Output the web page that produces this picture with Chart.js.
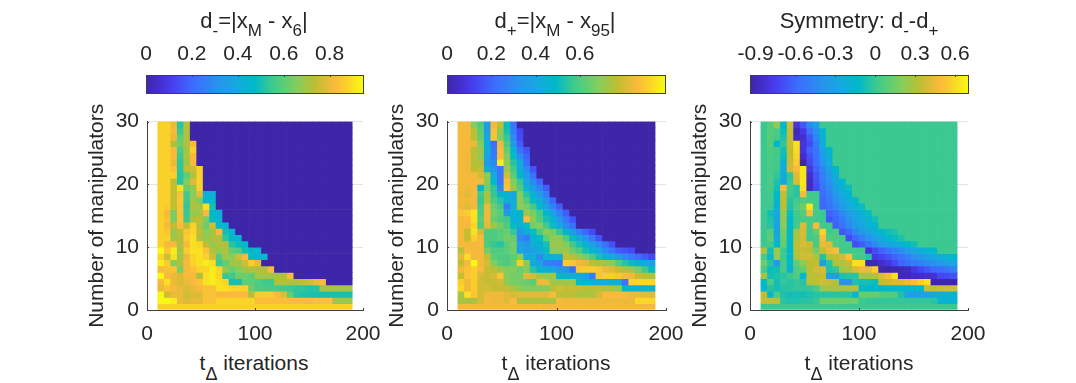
<!DOCTYPE html>
<html>
<head>
<meta charset="utf-8">
<script src="https://cdn.jsdelivr.net/npm/chart.js@4/dist/chart.umd.min.js"></script>
<style>
    body { margin: 0; background: #fff; width: 1076px; height: 383px; overflow: hidden; position: relative; font-family: "Liberation Sans", sans-serif; color: #262626; }
    canvas { position: absolute; }
    .lbl { position: absolute; white-space: nowrap; text-align: center; transform: translateX(-50%); }
    .lbl span { position: relative; }
    .sub { font-size: 17px; top: 8px; }
    .delta { font-size: 18px; top: 10px; }
</style>
</head>
<body>
<script>
// x centre of each column and the manipulator count of each row (top row first)
const tDelta = [13,19,25,31,37,43,49,55,61,67,73,79,85,91,97,103,109,115,121,127,133,139,145,151,157,163,169,175,181,187];
const manipulators = [30,29,28,27,26,25,24,23,22,21,20,19,18,17,16,15,14,13,12,11,10,9,8,7,6,5,4,3,2,1];

// heat values, top row first. a row that stops short is 0 for the rest
const dMinus = [
    [.87,.87,.80,.52,.72],
    [.87,.87,.82,.55,.72],
    [.87,.87,.80,.60,.72],
    [.87,.87,.72,.62,.72,.82],
    [.87,.87,.82,.57,.70,.87],
    [.87,.87,.82,.55,.72,.82],
    [.87,.87,.80,.53,.70,.82],
    [.87,.87,.84,.53,.74,.76,.87],
    [.87,.87,.87,.52,.60,.72,.87],
    [.87,.87,.74,.52,.66,.78,.87],
    [.87,.87,.74,.90,.62,.68,.87],
    [.87,.87,.74,.84,.55,.66,.80,.42,.42],
    [.87,.87,.74,.85,.55,.70,.64,.44,.46],
    [.87,.86,.74,.84,.53,.72,.70,.90,.50],
    [.87,.82,.64,.84,.54,.68,.70,.82,.47,.42],
    [.87,.84,.64,.84,.55,.72,.74,.64,.48,.44],
    [.87,.82,.74,.82,.74,.87,.72,.62,.76,.46,.44],
    [.87,.85,.68,.74,.84,.88,.74,.66,.70,.82,.50,.45],
    [.87,.87,.70,.72,.86,.90,.72,.68,.72,.72,.53,.47,.46],
    [.87,.82,.82,.72,.82,.90,.88,.74,.68,.72,.72,.52,.48,.46],
    [.94,.85,.92,.70,.86,.90,.90,.84,.72,.68,.72,.60,.58,.50,.46,.45],
    [.88,.76,.90,.70,.80,.88,.90,.87,.76,.58,.70,.66,.76,.82,.47,.46,.46],
    [.92,.86,.66,.72,.82,.88,.90,.92,.90,.55,.60,.70,.70,.76,.86,.80],
    [.82,.84,.84,.64,.82,.84,.88,.88,.92,.88,.68,.62,.66,.70,.72,.72,.72,.82],
    [.94,.82,.80,.78,.82,.82,.72,.90,.92,.88,.54,.55,.63,.62,.60,.70,.70,.70,.70,.72,.82],
    [.82,.90,.80,.78,.80,.82,.84,.90,.92,.90,.88,.50,.50,.60,.60,.57,.55,.55,.72,.72,.72,.72,.74,.76,.80,.82],
    [.80,.84,.82,.80,.78,.80,.82,.84,.84,.90,.90,.88,.88,.87,.62,.57,.57,.56,.56,.55,.54,.53,.53,.52,.52,.71,.71,.71,.71,.71],
    [.94,.76,.80,.80,.76,.78,.78,.84,.84,.82,.82,.82,.82,.82,.72,.86,.86,.86,.82,.78,.60,.52,.51,.51,.50,.50,.50,.50,.50,.50],
    [.94,.94,.92,.80,.78,.80,.80,.84,.84,.88,.88,.88,.88,.88,.88,.83,.83,.83,.83,.83,.83,.83,.83,.83,.84,.84,.84,.70,.70,.70],
    [.87,.87,.87,.87,.87,.87,.87,.87,.87,.87,.87,.87,.87,.87,.87,.87,.87,.87,.87,.87,.87,.87,.87,.87,.87,.87,.87,.87,.87,.87]
];

const dPlus = [
    [.85,.85,.68,.60,.36,.85,.76,.50,.24],
    [.85,.85,.76,.62,.36,.87,.70,.52,.26,.13],
    [.85,.85,.76,.64,.40,.88,.68,.56,.30,.14],
    [.85,.85,.83,.68,.44,.22,.84,.60,.36,.18],
    [.85,.85,.76,.72,.44,.24,.86,.64,.46,.22,.16],
    [.85,.84,.76,.70,.38,.26,.86,.68,.50,.30,.20],
    [.85,.84,.76,.74,.36,.30,.96,.70,.54,.42,.22],
    [.85,.84,.77,.78,.44,.34,.24,.72,.58,.44,.30,.16],
    [.85,.85,.85,.80,.70,.42,.24,.80,.62,.48,.36,.22],
    [.85,.85,.85,.85,.68,.48,.24,.86,.68,.56,.40,.30,.20],
    [.85,.84,.85,.48,.66,.55,.30,.88,.72,.60,.46,.36,.28,.18],
    [.84,.82,.85,.58,.74,.56,.46,.46,.40,.68,.54,.44,.36,.26],
    [.85,.84,.85,.56,.74,.60,.54,.44,.42,.70,.60,.50,.42,.32,.20],
    [.84,.82,.85,.58,.83,.64,.58,.26,.44,.70,.66,.58,.48,.38,.28,.18],
    [.88,.90,.95,.60,.84,.66,.62,.36,.46,.48,.72,.66,.58,.48,.38,.28,.18],
    [.85,.86,.94,.62,.84,.64,.60,.58,.44,.46,.86,.70,.60,.52,.46,.34,.24,.16],
    [.85,.85,.92,.60,.82,.72,.66,.60,.50,.44,.50,.66,.68,.58,.50,.40,.30,.22],
    [.85,.78,.94,.80,.60,.60,.62,.64,.56,.34,.44,.50,.60,.70,.66,.56,.46,.36,.28,.20,.14],
    [.85,.78,.90,.85,.60,.60,.62,.66,.64,.30,.26,.46,.50,.62,.70,.70,.60,.50,.40,.32,.24,.16],
    [.85,.85,.85,.85,.60,.56,.54,.62,.66,.38,.34,.44,.46,.52,.72,.72,.68,.58,.52,.46,.38,.30,.22,.16],
    [.76,.86,.85,.85,.66,.60,.60,.62,.66,.40,.36,.38,.42,.50,.70,.70,.72,.64,.60,.52,.46,.40,.30,.24,.18,.16,.14],
    [.82,.93,.84,.85,.78,.62,.60,.60,.62,.70,.40,.44,.30,.44,.46,.44,.78,.76,.72,.66,.60,.52,.46,.42,.36,.30,.26,.22,.18,.14],
    [.78,.85,.98,.84,.80,.68,.62,.60,.64,.90,.70,.42,.38,.28,.26,.24,.90,.88,.84,.82,.76,.74,.72,.70,.60,.54,.50,.46,.42,.38],
    [.84,.88,.90,.85,.78,.76,.72,.68,.68,.64,.68,.54,.46,.44,.40,.34,.32,.22,.88,.90,.90,.88,.84,.82,.78,.74,.72,.66,.58,.50],
    [.78,.88,.90,.80,.78,.80,.88,.68,.66,.66,.82,.80,.72,.70,.72,.48,.46,.44,.42,.38,.26,.88,.90,.90,.88,.86,.84,.78,.76,.74],
    [.90,.84,.90,.80,.78,.78,.80,.70,.66,.66,.64,.62,.84,.84,.72,.72,.72,.72,.50,.48,.47,.46,.44,.44,.42,.24,.92,.92,.92,.92],
    [.92,.84,.90,.80,.80,.78,.78,.78,.74,.70,.68,.68,.68,.68,.76,.80,.78,.78,.78,.76,.76,.76,.74,.74,.70,.48,.47,.46,.46,.46],
    [.74,.94,.88,.80,.84,.84,.84,.82,.80,.82,.82,.82,.82,.82,.86,.76,.76,.76,.74,.74,.74,.80,.86,.86,.86,.86,.84,.84,.82,.82],
    [.74,.74,.74,.80,.85,.84,.84,.82,.86,.74,.74,.74,.74,.74,.74,.85,.84,.84,.84,.84,.84,.84,.84,.84,.84,.84,.84,.92,.92,.92],
    [.85,.85,.85,.85,.85,.85,.85,.85,.85,.85,.85,.85,.85,.85,.85,.85,.85,.85,.85,.85,.85,.85,.85,.85,.85,.85,.85,.85,.85,.85]
];

const symmetry = [
    [0,.08,.22,-.14,.38,-.80,-.66,-.45,-.30],
    [0,.08,.04,-.10,.36,-.90,-.78,-.55,-.42,-.14],
    [0,.08,.02,-.06,.36,-.88,-.84,-.66,-.46,-.18],
    [0,.08,-.14,-.02,.36,.62,-.80,-.70,-.52,-.22],
    [0,.06,.02,-.08,.34,.60,-.80,-.62,-.55,-.30,-.14],
    [0,.05,.02,-.10,.34,.58,-.85,-.68,-.56,-.35,-.20],
    [0,.04,.02,-.22,.36,.55,-.94,-.72,-.58,-.38,-.24],
    [0,.04,0,-.24,.38,.48,.64,-.78,-.62,-.46,-.30,-.14],
    [0,.04,-.02,-.22,-.02,.42,.64,-.84,-.66,-.50,-.35,-.20],
    [0,.04,-.06,-.30,0,.40,.64,-.88,-.68,-.52,-.40,-.26,-.14],
    [0,.04,-.08,.48,.02,-.04,.62,-.88,-.70,-.55,-.46,-.30,-.20,-.10],
    [0,.02,-.12,.36,0,-.04,.48,.02,.02,-.58,-.48,-.36,-.26,-.14],
    [0,.02,-.16,.34,-.04,.02,.06,.04,.02,-.60,-.52,-.40,-.32,-.22,-.12],
    [0,0,-.20,.34,-.06,.06,.14,.64,.02,-.60,-.55,-.46,-.36,-.26,-.18,-.10],
    [0,-.08,-.26,.24,-.10,.02,.08,.50,.02,0,-.62,-.56,-.44,-.34,-.26,-.18,-.10],
    [0,-.06,-.28,.24,-.14,0,.04,.04,.02,0,-.66,-.60,-.52,-.40,-.30,-.24,-.16,-.08],
    [0,-.04,-.30,.22,-.12,.02,.42,.04,.48,.02,.02,-.62,-.56,-.44,-.34,-.28,-.20,-.14],
    [0,.08,-.28,.16,-.12,.28,.40,.02,.12,.58,.02,.04,-.66,-.60,-.46,-.38,-.30,-.22,-.14,-.08,-.06],
    [0,.10,-.24,.14,-.12,.30,.38,.02,.04,.50,.06,.06,.02,-.70,-.60,-.50,-.40,-.32,-.24,-.16,-.10,-.06],
    [0,.02,-.14,.12,-.12,.34,.40,.36,.04,.44,.42,.06,.02,.02,-.70,-.64,-.56,-.44,-.34,-.30,-.24,-.18,-.12,-.08],
    [.30,-.08,.24,0,-.14,.32,.36,.34,.14,.36,.44,.50,.02,.02,.02,.02,-.82,-.70,-.62,-.56,-.48,-.42,-.34,-.28,-.22,-.16,-.12],
    [.04,-.16,.24,0,-.14,.30,.38,.38,.30,-.06,.30,.34,.38,.52,.04,.02,-.04,-.78,-.74,-.68,-.62,-.56,-.50,-.42,-.38,-.32,-.26,-.22,-.18,-.14],
    [.14,-.04,-.36,.02,-.12,.10,.22,.34,.34,-.34,-.04,.30,.30,.36,.62,.62,-.92,-.90,-.86,-.80,-.70,-.62,-.56,-.52,-.50,-.44,-.40,-.36,-.32,-.28],
    [.04,-.10,-.08,.04,-.20,.06,.12,.32,.38,.38,-.06,-.02,.26,.30,.40,.46,.44,.56,-.92,-.94,-.92,-.90,-.88,-.78,-.72,-.66,-.60,-.58,-.54,-.48],
    [.28,-.08,-.06,-.04,0,.06,-.16,.32,.34,.36,-.32,-.34,-.06,-.04,-.04,.28,.28,.32,.40,.48,.62,-.90,-.90,-.88,-.86,-.84,-.82,-.72,-.70,-.68],
    [-.12,.06,-.08,-.02,-.04,-.02,-.04,.32,.34,.38,.36,.30,-.40,-.40,-.06,-.08,-.08,-.10,.32,.36,.38,.40,.44,.50,.56,.62,-.94,-.94,-.94,-.94],
    [-.16,-.04,-.08,-.04,-.04,-.02,-.02,-.02,.04,.24,.28,.30,.30,.30,.30,-.12,-.14,-.14,-.14,-.14,-.14,-.14,-.14,-.14,-.12,.36,.36,.37,.38,.38],
    [.34,-.16,.06,-.06,-.08,-.08,-.08,-.06,-.04,-.04,-.04,-.04,-.04,-.04,-.16,.12,.12,.12,.08,.06,.06,-.06,-.32,-.32,-.32,-.30,-.28,-.22,-.18,-.18],
    [.36,.36,.32,-.04,-.06,-.06,-.04,-.04,-.02,.14,.14,.14,.14,.14,.14,0,-.02,-.02,-.02,-.02,-.02,-.02,-.02,-.02,-.02,-.02,-.04,-.16,-.18,-.18],
    [0,0,0,0,0,0,0,0,0,0,0,0,0,0,0,0,0,0,0,0,0,0,0,0,0,0,0,0,0,0]
];

// colour bar ranges and ticks
const dMinusRange = [0, 0.945];
const dPlusRange = [0, 0.985];
const symmetryRange = [-0.9425, 0.6975];
const dMinusTicks = [0, 0.2, 0.4, 0.6, 0.8];
const dPlusTicks = [0, 0.2, 0.4, 0.6];
const symmetryTicks = [-0.9, -0.6, -0.3, 0, 0.3, 0.6];
const xTicks = [0, 100, 200];
const yTicks = [0, 10, 20, 30];

const parula = [
    [0,62,38,168],[.06,68,46,205],[.12,72,62,240],[.22,60,110,255],[.34,38,150,235],[.42,20,170,222],[.5,0,185,200],
    [.575,60,200,145],[.63,90,205,120],[.7,135,205,90],[.78,190,190,50],[.87,250,185,60],[.93,250,212,40],[1,248,250,20]
];

const textColor = '#262626';
const axisColor = '#404040';
const fontFamily = '"Liberation Sans", sans-serif';
const fontSize = 21;

function colorAt(f) {
    f = Math.min(1, Math.max(0, f));
    for (let i = 1; i < parula.length; i++) {
        if (f <= parula[i][0]) {
            let a = parula[i-1], b = parula[i];
            let t = (f - a[0]) / (b[0] - a[0]);
            let ch = j => Math.round(a[j] + (b[j] - a[j]) * t);
            return 'rgb(' + ch(1) + ',' + ch(2) + ',' + ch(3) + ')';
        }
    }
}

function addCanvas(left, top, w, h) {
    let c = document.createElement('canvas');
    c.width = w; c.height = h;
    c.style.left = left + 'px';
    c.style.top = top + 'px';
    c.style.width = w + 'px';
    c.style.height = h + 'px';
    document.body.appendChild(c);
    return c;
}

function addLabel(html, cx, top, size) {
    let d = document.createElement('div');
    d.className = 'lbl';
    d.style.left = cx + 'px';
    d.style.top = top + 'px';
    d.style.fontSize = size + 'px';
    d.innerHTML = html;
    document.body.appendChild(d);
}

// short ticks pointing into the plot, on top of the cells
const inTicks = {
    id: 'inTicks',
    afterDatasetsDraw(chart) {
        let c = chart.ctx, a = chart.chartArea;
        let isBar = chart.config.options.indexAxis == 'y';
        c.save();
        c.strokeStyle = axisColor;
        c.lineWidth = 1;
        c.beginPath();
        for (let t of chart.scales.x.ticks) {
            let px = Math.round(chart.scales.x.getPixelForValue(t.value)) + .5;
            if (isBar) { c.moveTo(px, a.top); c.lineTo(px, a.top + 2); }
            else { c.moveTo(px, a.bottom); c.lineTo(px, a.bottom - 2); }
        }
        if (!isBar) for (let t of chart.scales.y.ticks) {
            let py = Math.round(chart.scales.y.getPixelForValue(t.value)) + .5;
            c.moveTo(a.left, py); c.lineTo(a.left + 2, py);
        }
        c.stroke();
        if (isBar) c.strokeRect(Math.round(a.left) + .5, Math.round(a.top) + .5, Math.round(a.width), Math.round(a.height));
        c.restore();
    }
};

function heatChart(left, right, rows, range) {
    const yWidth = 62, top = 121, bottom = 310;
    let canvas = addCanvas(left - yWidth, top - 20, yWidth + (right - left) + 30, bottom - top + 20 + 34);
    let datasets = rows.map((row, r) => ({
        data: tDelta.map(t => ({x: t, y: [manipulators[r] - 1, manipulators[r]]})),
        backgroundColor: tDelta.map((t, c) => colorAt(((row[c] ?? 0) - range[0]) / (range[1] - range[0]))),
        borderWidth: 0,
        categoryPercentage: 1,
        barPercentage: 1,
    }));
    return new Chart(canvas, {
        type: 'bar',
        data: {datasets},
        plugins: [inTicks],
        options: {
            responsive: false,
            animation: false,
            layout: {padding: {top: 10, right: 30, left: 0, bottom: 0}},
            plugins: {legend: {display: false}, tooltip: {enabled: false}},
            scales: {
                x: {
                    type: 'linear', min: 0, max: 200, offset: false, stacked: true,
                    afterBuildTicks: s => { s.ticks = xTicks.map(v => ({value: v})); },
                    afterFit: s => { s.height = 34; },
                    grid: {display: false, offset: false},
                    border: {color: axisColor, z: 2},
                    ticks: {color: textColor, font: {family: fontFamily, size: fontSize}, padding: 4, maxRotation: 0, autoSkip: false},
                },
                y: {
                    min: 0, max: 30,
                    afterBuildTicks: s => { s.ticks = yTicks.map(v => ({value: v})); },
                    afterFit: s => { s.width = yWidth; },
                    grid: {color: '#e4e4e4', drawTicks: false},
                    border: {color: axisColor, z: 2},
                    ticks: {color: textColor, font: {family: fontFamily, size: fontSize}, padding: 8, autoSkip: false},
                    title: {display: true, text: 'Number of manipulators', color: textColor, font: {family: fontFamily, size: fontSize}, padding: 0},
                },
            },
        },
    });
}

function colorBar(left, right, range, ticks) {
    const top = 75, height = 18, scaleH = 45, pad = 30;
    let canvas = addCanvas(left - pad, top - scaleH - 5, right - left + 2 * pad, scaleH + 5 + height + 2);
    return new Chart(canvas, {
        type: 'bar',
        data: {
            labels: ['c'],
            datasets: [{
                data: [range],
                categoryPercentage: 1,
                barPercentage: 1,
                borderWidth: 0,
                backgroundColor: ctx => {
                    let a = ctx.chart.chartArea;
                    if (!a) return '#fff';
                    let g = ctx.chart.ctx.createLinearGradient(a.left, 0, a.right, 0);
                    for (let s of parula) g.addColorStop(s[0], colorAt(s[0]));
                    return g;
                },
            }],
        },
        plugins: [inTicks],
        options: {
            indexAxis: 'y',
            responsive: false,
            animation: false,
            layout: {padding: {top: 5, left: pad, right: pad, bottom: 2}},
            plugins: {legend: {display: false}, tooltip: {enabled: false}},
            scales: {
                x: {
                    type: 'linear', position: 'top', min: range[0], max: range[1],
                    afterBuildTicks: s => { s.ticks = ticks.map(v => ({value: v})); },
                    afterFit: s => { s.height = scaleH; },
                    grid: {display: false},
                    border: {display: false},
                    ticks: {color: textColor, font: {family: fontFamily, size: fontSize}, padding: 0, maxRotation: 0, autoSkip: false, callback: v => String(v)},
                },
                y: {display: false},
            },
        },
    });
}

window.addEventListener('load', () => {
    heatChart(147, 363, dMinus, dMinusRange);
    heatChart(447, 666, dPlus, dPlusRange);
    heatChart(750, 968, symmetry, symmetryRange);
    colorBar(146, 363, dMinusRange, dMinusTicks);
    colorBar(447, 665, dPlusRange, dPlusTicks);
    colorBar(750, 968, symmetryRange, symmetryTicks);

    addLabel('d<span class="sub">-</span>=|x<span class="sub">M</span> - x<span class="sub">6</span>|', 254, 8, 22);
    addLabel('d<span class="sub">+</span>=|x<span class="sub">M</span> - x<span class="sub">95</span>|', 555, 8, 22);
    addLabel('Symmetry: d<span class="sub">-</span>-d<span class="sub">+</span>', 859, 8, 22);
    addLabel('t<span class="delta">&Delta;</span> iterations', 254, 351, 21);
    addLabel('t<span class="delta">&Delta;</span> iterations', 556, 351, 21);
    addLabel('t<span class="delta">&Delta;</span> iterations', 859, 351, 21);
});
</script>
</body>
</html>
